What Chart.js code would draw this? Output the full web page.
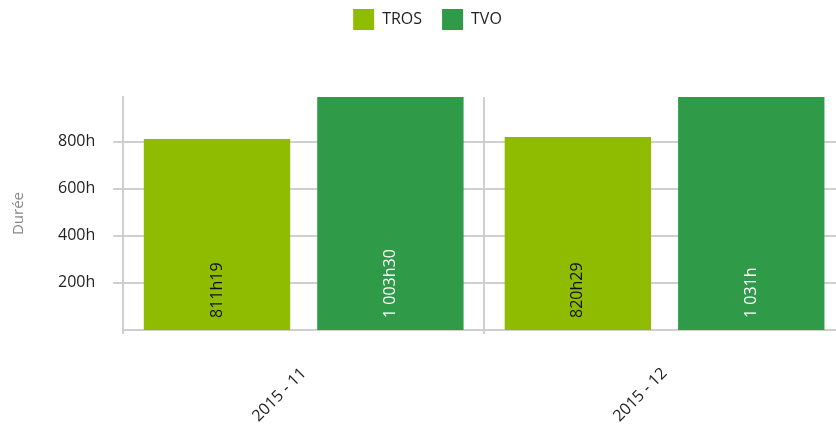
<!DOCTYPE html>
<html>
<head>
<meta charset="utf-8">
<script src="https://cdn.jsdelivr.net/npm/chart.js@4"></script>
<style>
  html, body { margin: 0; padding: 0; background: #fff; overflow: hidden; }
  #wrap { width: 845px; height: 426px; }
</style>
</head>
<body>
<div id="wrap"><canvas id="chart-duree"></canvas></div>
<script>
const months = ["2015 - 11", "2015 - 12"];
const trosHours = [811 + 19 / 60, 820 + 29 / 60];
const tvoHours = [1003 + 30 / 60, 1031];
const yTicks = [200, 400, 600, 800];

const FONT = "'Open Sans', sans-serif";

// "1 003h30" style labels
function fmtDuree(v) {
  const h = Math.floor(v);
  const m = Math.round((v - h) * 60);
  const hs = String(h).replace(/\B(?=(\d{3})+(?!\d))/g, " ");
  return hs + "h" + (m ? String(m).padStart(2, "0") : "");
}

const barLabels = {
  id: "barLabels",
  afterDatasetsDraw(chart) {
    const ctx = chart.ctx;
    chart.data.datasets.forEach((ds, i) => {
      chart.getDatasetMeta(i).data.forEach((bar, j) => {
        ctx.save();
        ctx.translate(bar.x, chart.chartArea.bottom - 12);
        ctx.rotate(-Math.PI / 2);
        ctx.font = "16px " + FONT;
        ctx.fillStyle = ds.labelColor;
        ctx.textAlign = "left";
        ctx.textBaseline = "middle";
        ctx.fillText(fmtDuree(ds.data[j]), 0, 0);
        ctx.restore();
      });
    });
  }
};

const legendGap = {
  id: "legendGap",
  beforeInit(chart) {
    const fit = chart.legend.fit;
    chart.legend.fit = function () {
      fit.bind(chart.legend)();
      this.height += 57;
    };
  }
};

new Chart(document.getElementById("chart-duree"), {
  type: "bar",
  data: {
    labels: months,
    datasets: [
      { label: "TROS", data: trosHours, backgroundColor: "#8fbb00", labelColor: "#111" },
      { label: "TVO", data: tvoHours, backgroundColor: "#2f9b48", labelColor: "#fff" }
    ]
  },
  options: {
    responsive: true,
    maintainAspectRatio: false,
    animation: false,
    categoryPercentage: 0.961,
    barPercentage: 0.844,
    layout: { padding: { top: -11, bottom: 0, left: 10 } },
    plugins: {
      legend: {
        position: "top",
        labels: { boxWidth: 21, boxHeight: 21, padding: 20, color: "#222", font: { family: FONT, size: 16 } }
      },
      tooltip: { enabled: false }
    },
    scales: {
      x: {
        afterFit(scale) { scale.height = 96; },
        grid: { color: "#cfcfcf", lineWidth: 2, offset: true, tickLength: 4 },
        border: { color: "#cfcfcf", width: 2 },
        ticks: { minRotation: 45, maxRotation: 45, color: "#222", font: { family: FONT, size: 16 }, padding: 30 }
      },
      y: {
        min: 0,
        max: 990,
        afterBuildTicks(axis) { axis.ticks = yTicks.map(v => ({ value: v })); },
        grid: { color: "#cfcfcf", lineWidth: 2, tickLength: 10 },
        border: { color: "#cfcfcf", width: 2 },
        ticks: { color: "#222", font: { family: FONT, size: 16 }, padding: 18, callback: v => v + "h" },
        title: { display: true, text: "Durée", color: "#888", font: { family: FONT, size: 15 }, padding: { top: 0, bottom: 12 } }
      }
    }
  },
  plugins: [barLabels, legendGap]
});
</script>
</body>
</html>
